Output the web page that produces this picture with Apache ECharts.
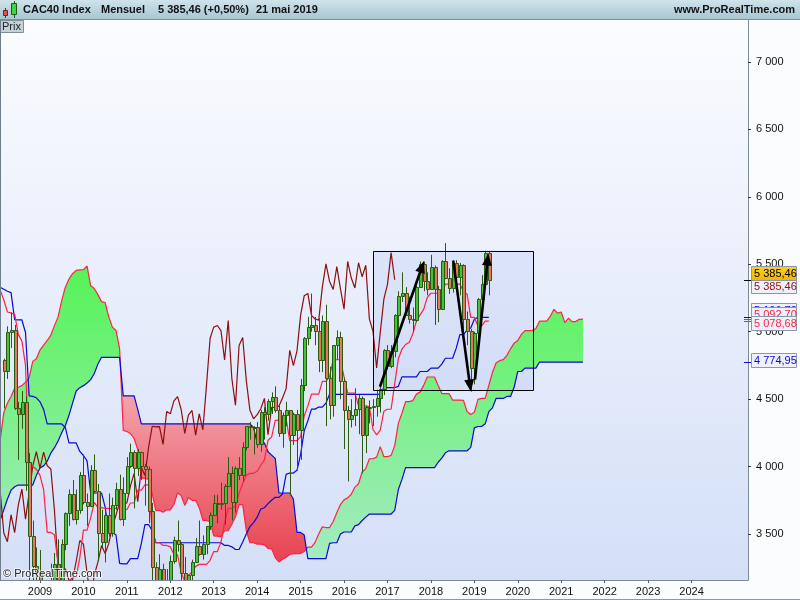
<!DOCTYPE html>
<html><head><meta charset="utf-8">
<script src="https://cdn.jsdelivr.net/npm/echarts@6/dist/echarts.min.js"></script>
<style>html,body{margin:0;padding:0;background:#fbfcfd}#c{width:800px;height:600px}</style>
</head><body><div id="c"></div>
<script>
// ================= DATA =================
const START_CANDLE = [2008, 3];   // first monthly candle (year, month)
const START_LINES  = [2008, 2];   // first Tenkan / Kijun value
const START_CLOUD  = [2008, 2];   // first (already projected) Senkou value
const CHIKOU_SHIFT = 26;          // chikou drawn 26 months back

const open = [
 4790,4707,4996,5014,4434,4392,4482,4032,3488,3262,
 3218,2962,2693,2807,3159,3278,3140,3426,3653,3795,3608,3680,
 3936,3739,3708,3974,3816,3508,3443,3643,3510,3715,3833,3610,
 3805,4005,4110,3989,4107,4006,3982,3672,3256,2982,3243,3155,
 3160,3298,3452,3424,3213,3017,3196,3291,3414,3355,3429,3557,
 3641,3733,3723,3731,3857,3949,3739,3993,3934,4143,4299,4295,
 4296,4165,4408,4391,4487,4519,4423,4246,4381,4416,4233,4390,
 4273,4604,4951,5034,5046,5008,4790,5082,4653,4455,4898,4957,
 4637,4417,4354,4385,4429,4506,4237,4440,4438,4448,4509,4578,
 4862,4749,4858,5123,5267,5284,5121,5094,5086,5330,5503,5373,
 5313,5482,5320,5167,5521,5398,5324,5511,5407,5493,5093,5003,
 4731,4993,5241,5351,5586];
const high = [
 4800,5040,5142,5050,4480,4560,4520,4100,3600,3400,
 3382,3130,2980,3280,3360,3460,3460,3660,3830,3900,3830,3960,
 4088,3800,4010,4090,3870,3680,3680,3800,3770,3880,3940,3920,
 4070,4170,4120,4130,4110,4020,4000,3730,3290,3350,3280,3240,
 3340,3480,3600,3440,3330,3200,3310,3470,3600,3490,3560,3660,
 3790,3790,3880,3870,4070,4000,4000,4070,4180,4300,4330,4300,
 4330,4420,4440,4500,4550,4595,4450,4400,4480,4420,4400,4420,
 4650,4960,5110,5283,5110,5100,5120,5200,4740,4900,5010,5000,
 4660,4450,4500,4580,4530,4520,4450,4490,4500,4570,4590,4870,
 4900,4900,5130,5300,5440,5330,5260,5180,5340,5520,5520,5440,
 5570,5490,5340,5530,5657,5470,5530,5530,5510,5500,5150,5020,
 5000,5250,5420,5600,5590];
const low = [
 4430,4650,4880,4420,4050,4280,3820,2881,2990,3050,
 2900,2680,2465,2690,3080,3080,2970,3380,3560,3600,3570,3650,
 3720,3560,3700,3800,3300,3400,3290,3480,3480,3680,3600,3560,
 3800,3990,3690,3930,3900,3710,3580,2880,2700,2780,2840,2920,
 3090,3280,3370,3130,2950,2950,3000,3290,3340,3310,3350,3530,
 3640,3580,3680,3570,3850,3600,3660,3900,3890,4120,4200,4090,
 4140,4110,4200,4340,4390,4400,4220,4140,4300,3790,4160,3980,
 4050,4560,4900,5000,4900,4700,4700,4300,4350,4370,4790,4500,
 4130,3890,4290,4300,4240,3950,4100,4320,4300,4370,4400,4530,
 4720,4730,4810,4990,5220,5120,5060,5000,5070,5330,5300,5270,
 5310,5050,5070,5160,5390,5280,5290,5340,5270,4940,4900,4556,
 4610,4950,5190,5350,5270];
const close = [
 4707,4996,5014,4434,4392,4482,4032,3488,3262,3218,
 2962,2693,2807,3159,3278,3140,3426,3653,3795,3608,3680,3936,
 3739,3708,3974,3816,3508,3443,3643,3510,3715,3833,3610,3805,
 4005,4110,3989,4107,4006,3982,3672,3256,2982,3243,3155,3160,
 3298,3452,3424,3213,3017,3196,3291,3414,3355,3429,3557,3641,
 3733,3723,3731,3857,3949,3739,3993,3934,4143,4299,4295,4296,
 4165,4408,4391,4487,4519,4423,4246,4381,4416,4233,4390,4273,
 4604,4951,5034,5046,5008,4790,5082,4653,4455,4898,4957,4637,
 4417,4354,4385,4429,4506,4237,4440,4438,4448,4509,4578,4862,
 4749,4858,5123,5267,5284,5121,5094,5086,5330,5503,5373,5313,
 5482,5320,5167,5521,5398,5324,5511,5407,5493,5093,5003,4731,
 4993,5241,5351,5586,5385.46];

const tenkan = [
 5309,5235,5146,5139,5130,4980,4930,4750,4011,4000,3980,
 3935,3830,3512,3512,3492,3282,3032,3062,3147,3182,3182,3325,
 3529,3529,3620,3735,3695,3695,3690,3690,3689,3690,3690,3690,
 3680,3730,3730,3825,3825,3865,3865,3525,3435,3435,3415,3415,
 3405,3350,3345,3215,3150,3190,3220,3260,3275,3275,3275,3305,
 3370,3370,3440,3585,3690,3690,3710,3800,3875,3935,3950,3950,
 3965,4010,4050,4195,4220,4343,4343,4343,4353,4193,4193,4193,
 4220,4375,4450,4537,4537,4537,4632,4632,4667,4792,4792,4792,
 4665,4545,4545,4545,4450,4450,4450,4445,4275,4235,4270,4410,
 4425,4425,4615,4800,4870,4905,4920,4985,5080,5125,5165,5255,
 5285,5285,5285,5285,5353,5353,5353,5353,5353,5298,5278,5106,
 5106,5043,5043,5078,5078.68];
const kijun = [
 5330,5315,5300,5290,5090,5087,5087,4994,4524,4520,4510,
 4480,4424,4316,4316,4316,4316,4316,4290,4175,4175,4175,4112,
 4082,4042,3804,3804,3804,3804,3700,3512,3512,3492,3282,3278,
 3278,3318,3318,3318,3430,3570,3570,3525,3435,3435,3435,3435,
 3435,3435,3435,3435,3435,3435,3435,3435,3435,3435,3435,3435,
 3435,3435,3435,3415,3415,3405,3385,3385,3440,3500,3555,3585,
 3625,3685,3695,3725,3750,3772,3772,3797,3942,3952,3952,3972,
 4090,4265,4340,4426,4426,4441,4441,4471,4536,4536,4536,4536,
 4536,4536,4536,4536,4536,4536,4536,4536,4536,4536,4536,4586,
 4586,4586,4586,4595,4665,4665,4665,4665,4665,4705,4705,4705,
 4730,4730,4730,4760,4803,4803,4803,4878,4978,4978,5013,5028,
 5093,5106.73,5106.73,5106.73,5106.73];
const senkouA = [
 4197,4400,4470,4520,4580,4588,4600,4625,4660,4780,4800,
 4864,4900,4935,4975,5045,5110,5230,5330,5390,5430,5455,5458,
 5460,5487,5340,5320,5275,5223,5215,5110,5034,5009,4872,4268,
 4260,4245,4208,4127,3914,3914,3904,3799,3674,3676,3661,3679,
 3679,3719,3806,3786,3712,3770,3750,3750,3695,3601,3601,3591,
 3486,3484,3479,3524,3524,3572,3628,3718,3718,3525,3435,3435,
 3425,3425,3420,3393,3390,3325,3293,3313,3328,3348,3355,3355,
 3355,3370,3403,3403,3438,3500,3553,3548,3548,3593,3658,3718,
 3753,3768,3795,3848,3873,3960,3985,4058,4058,4070,4148,4073,
 4073,4083,4155,4320,4395,4482,4482,4489,4537,4552,4602,4664,
 4664,4664,4601,4541,4541,4541,4493,4493,4493,4491,4406,4386,
 4403,4498,4506,4506,4601,4698,4768,4785,4793,4825,4873,4915,
 4935,4980,5008,5008,5008,5023,5078,5078,5078,5116,5166,5138,
 5146,5067,5100,5075,5075,5092,5092.70];
const senkouB = [
 3604,3680,3760,3825,3850,3863,3863,3863,3863,3863,3935,
 3990,4005,4040,4100,4140,4190,4250,4305,4380,4470,4560,4585,
 4600,4620,4645,4690,4760,4810,4810,4810,4810,4810,4810,4524,
 4524,4524,4524,4424,4316.5,4316.5,4316.5,4316.5,4316.5,4316.5,4316.5,4316.5,
 4316.5,4316.5,4316.5,4316.5,4316.5,4316.5,4316.5,4316.5,4316.5,4316.5,4316.5,4316.5,
 4316.5,4316.5,4316.5,4316.5,4316.5,4316.5,4316.5,4316.5,4316.5,4316.5,4316.5,4290,
 4175,4175,4175,4110,4085,4060,3804,3804,3804,3804,3760,3512,
 3512,3492,3318,3318,3318,3318,3318,3318,3430,3435,3435,3500,
 3515,3515,3515,3560,3570,3600,3625,3648,3648,3648,3648,3648,
 3648,3648,3675,3830,3905,3992,3992,3992,3992,3992,3992,3992,
 3992,3992,4032,4062,4102,4117,4117,4117,4117,4117,4117,4142,
 4287,4297,4297,4317,4407,4435,4505,4505,4505,4520,4520,4590,
 4705,4705,4730,4730,4730,4730,4774.95,4774.95,4774.95,4774.95,4774.95,4774.95,
 4774.95,4774.95,4774.95,4774.95,4774.95,4774.95,4774.95];

const yearLabels = [2009,2010,2011,2012,2013,2014,2015,2016,2017,2018,2019,2020,2021,2022,2023,2024];
const priceTicks = [3500,4000,4500,5000,5500,6000,6500,7000];

// annotations (decimal year, price)
const boxCorners = [[2016.675, 5601], [2020.358, 4568]];
const arrows = [
  [[2016.827, 4592], [2017.840, 5524]],
  [[2018.514, 5527], [2018.917, 4556]],
  [[2019.014, 4645], [2019.320, 5580]]
];
const headerTitle = ['CAC40 Index', 'Mensuel', '5 385,46 (+0,50%)', '21 mai 2019'];

// ================= HELPERS =================
const mi = ym => (ym[0] - 2009) * 12 + (ym[1] - 1);
const yr = y => (y - 2009) * 12;
const X_MIN = -11.05, X_MAX = 195.6, Y_MIN = 3159, Y_MAX = 7311;
const FONT = '"Liberation Sans", Arial, sans-serif';
function fmt(v, dec) {
  const s = v.toFixed(dec);
  const parts = s.split('.');
  const i = parts[0].replace(/\B(?=(\d{3})+(?!\d))/g, ' ');
  return parts.length > 1 ? i + ',' + parts[1] : i;
}

const c0 = mi(START_CANDLE), l0 = mi(START_LINES), k0 = mi(START_CLOUD);
const candleData = close.map((c, i) => [c0 + i, open[i], c, low[i], high[i]]);
const tenkanData = tenkan.map((v, i) => [l0 + i, v]);
const kijunData = kijun.map((v, i) => [l0 + i, v]);
const spanAData = senkouA.map((v, i) => [k0 + i, v]);
const spanBData = senkouB.map((v, i) => [k0 + i, v]);
const chikouData = close.map((v, i) => [c0 + i - CHIKOU_SHIFT, v]);

// cloud polygons split where the spans cross
function cloudRuns() {
  const runs = []; let cur = null;
  for (let i = 0; i < senkouA.length; i++) {
    const p = k0 + i, a = senkouA[i], b = senkouB[i], up = a >= b;
    if (!cur) { cur = {up, top: [[p, a]], bot: [[p, b]]}; continue; }
    if (up !== cur.up) {
      const a0 = senkouA[i - 1], b0 = senkouB[i - 1];
      const t = (a0 - b0) / ((a0 - b0) - (a - b));
      const px = p - 1 + t, pv = a0 + t * (a - a0);
      cur.top.push([px, pv]); cur.bot.push([px, pv]); runs.push(cur);
      cur = {up, top: [[px, pv], [p, a]], bot: [[px, pv], [p, b]]};
    } else { cur.top.push([p, a]); cur.bot.push([p, b]); }
  }
  runs.push(cur);
  return runs;
}
const runs = cloudRuns();
const greenGrad = new echarts.graphic.LinearGradient(0, 255, 0, 565, [
  {offset: 0, color: '#52f452'}, {offset: 1, color: '#a6ebc4'}], true);
const redGrad = new echarts.graphic.LinearGradient(0, 390, 0, 570, [
  {offset: 0, color: '#f4a6ae'}, {offset: 1, color: '#e73e4c'}], true);

const RED = '#ff2244', BLUE = '#0a0ad2', DARKRED = '#8e0f12';
const UP_FILL = '#44c23a', DOWN_FILL = '#e3785e', CANDLE_EDGE = '#2c5a0e';

const chart = echarts.init(document.getElementById('c'), null, {renderer: 'canvas', width: 800, height: 600});

const option = {
  animation: false,
  backgroundColor: '#fbfcfd',
  textStyle: {fontFamily: FONT},
  grid: {left: 0, right: 52, top: 20, bottom: 20, show: true, borderWidth: 0,
    backgroundColor: new echarts.graphic.LinearGradient(0, 0, 0, 1, [
      {offset: 0, color: '#fbfcff'}, {offset: 1, color: '#d4dff7'}])},
  xAxis: {
    type: 'value', min: X_MIN, max: X_MAX,
    axisLine: {show: true, onZero: false, lineStyle: {color: '#7b8b99', width: 1}},
    axisTick: {show: true, length: 3, customValues: yearLabels.map(yr), lineStyle: {color: '#55606a'}},
    axisLabel: {customValues: yearLabels.map(yr), formatter: v => String(2009 + Math.round(v / 12)),
      color: '#111', fontSize: 11, fontFamily: FONT, margin: 6},
    splitLine: {show: false}
  },
  yAxis: {
    type: 'value', position: 'right', min: Y_MIN, max: Y_MAX,
    axisLine: {show: true, onZero: false, lineStyle: {color: '#7b8b99', width: 1}},
    axisTick: {show: true, length: 3, customValues: priceTicks, lineStyle: {color: '#333'}},
    axisLabel: {customValues: priceTicks, formatter: v => fmt(v, 0), color: '#111', fontSize: 11, fontFamily: FONT, margin: 8},
    splitLine: {show: false}
  },
  series: [
    { // box fill
      type: 'custom', z: 1, silent: true, data: [[boxCorners[0][0], boxCorners[0][1], boxCorners[1][0], boxCorners[1][1]]],
      renderItem: (params, api) => {
        const p1 = api.coord([yr(api.value(0)), api.value(1)]);
        const p2 = api.coord([yr(api.value(2)), api.value(3)]);
        return {type: 'rect', shape: {x: p1[0], y: p1[1], width: p2[0] - p1[0], height: p2[1] - p1[1]},
          style: {fill: 'rgba(120,150,235,0.13)'}};
      }
    },
    { // kumo
      type: 'custom', z: 2, silent: true, data: [[0]],
      renderItem: (params, api) => ({
        type: 'group',
        children: runs.map(r => ({
          type: 'polygon',
          shape: {points: r.top.map(p => api.coord(p)).concat(r.bot.slice().reverse().map(p => api.coord(p)))},
          style: {fill: r.up ? greenGrad : redGrad}
        }))
      })
    },
    {type: 'line', z: 3, clip: true, data: spanAData, symbol: 'none', silent: true, lineStyle: {color: RED, width: 1.2}},
    {type: 'line', z: 3, clip: true, data: spanBData, symbol: 'none', silent: true, lineStyle: {color: BLUE, width: 1.2}},
    {type: 'line', z: 3, clip: true, data: chikouData, symbol: 'none', silent: true, lineStyle: {color: DARKRED, width: 1.2}},
    {type: 'line', z: 3, clip: true, data: kijunData, symbol: 'none', silent: true, lineStyle: {color: BLUE, width: 1.2}},
    {type: 'line', z: 3, clip: true, data: tenkanData, symbol: 'none', silent: true, lineStyle: {color: RED, width: 1.2}},
    { // candles (custom so that they are clipped to the plot)
      type: 'custom', z: 4, clip: true, silent: true, data: candleData,
      renderItem: (params, api) => {
        const x = api.value(0), o = api.value(1), c = api.value(2), l = api.value(3), h = api.value(4);
        const pt = api.coord([x, h]), pl = api.coord([x, l]);
        const po = api.coord([x, o]), pc = api.coord([x, c]);
        const cx = Math.round(pt[0]);
        const yTop = Math.round(Math.min(po[1], pc[1])), yBot = Math.round(Math.max(po[1], pc[1]));
        return {type: 'group', children: [
          {type: 'line', shape: {x1: cx + 0.5, y1: pt[1], x2: cx + 0.5, y2: pl[1]}, style: {stroke: CANDLE_EDGE, lineWidth: 1}},
          {type: 'rect', shape: {x: cx - 0.5, y: yTop + 0.5, width: 3, height: Math.max(1, yBot - yTop)},
            style: {fill: c >= o ? UP_FILL : DOWN_FILL, stroke: CANDLE_EDGE, lineWidth: 1}}
        ]};
      }
    },
    { // box border
      type: 'custom', z: 5, silent: true, data: [[boxCorners[0][0], boxCorners[0][1], boxCorners[1][0], boxCorners[1][1]]],
      renderItem: (params, api) => {
        const p1 = api.coord([yr(api.value(0)), api.value(1)]);
        const p2 = api.coord([yr(api.value(2)), api.value(3)]);
        return {type: 'rect', shape: {x: Math.round(p1[0]) + 0.5, y: Math.round(p1[1]) + 0.5,
          width: Math.round(p2[0] - p1[0]), height: Math.round(p2[1] - p1[1])},
          style: {fill: null, stroke: '#000', lineWidth: 1}};
      }
    },
    { // arrows
      type: 'custom', z: 6, silent: true, data: arrows.map(a => [a[0][0], a[0][1], a[1][0], a[1][1]]),
      renderItem: (params, api) => {
        const t = api.coord([yr(api.value(0)), api.value(1)]);
        const h = api.coord([yr(api.value(2)), api.value(3)]);
        const dx = h[0] - t[0], dy = h[1] - t[1], L = Math.hypot(dx, dy);
        const ux = dx / L, uy = dy / L, hl = 12, hw = 5;
        const bx = h[0] - ux * hl, by = h[1] - uy * hl;
        return {type: 'group', children: [
          {type: 'line', shape: {x1: t[0], y1: t[1], x2: bx + ux * 2, y2: by + uy * 2}, style: {stroke: '#000', lineWidth: 2.6}},
          {type: 'polygon', shape: {points: [[h[0], h[1]], [bx - uy * hw, by + ux * hw], [bx + uy * hw, by - ux * hw]]},
            style: {fill: '#000'}}
        ]};
      }
    }
  ],
  graphic: []
};
chart.setOption(option);

// ---------- overlay: header, tags, watermark ----------
const g = [];
g.push({type: 'rect', shape: {x: 0, y: 0, width: 800, height: 20}, z: 100,
  style: {fill: new echarts.graphic.LinearGradient(0, 0, 0, 1, [{offset: 0, color: '#cfe3ea'}, {offset: 1, color: '#a6c4d2'}])}});
g.push({type: 'line', shape: {x1: 0, y1: 19.5, x2: 800, y2: 19.5}, z: 101, style: {stroke: '#7890a0', lineWidth: 1}});
// icon
g.push({type: 'line', shape: {x1: 5.5, y1: 8, x2: 5.5, y2: 18}, z: 101, style: {stroke: '#6a2020', lineWidth: 1}});
g.push({type: 'rect', shape: {x: 3.5, y: 10.5, width: 4, height: 5}, z: 102, style: {fill: '#e65050', stroke: '#7a2020', lineWidth: 1}});
g.push({type: 'line', shape: {x1: 14.5, y1: 1, x2: 14.5, y2: 18}, z: 101, style: {stroke: '#205a10', lineWidth: 1}});
g.push({type: 'rect', shape: {x: 11.5, y: 3.5, width: 5, height: 11}, z: 102, style: {fill: '#3ed83e', stroke: '#205a10', lineWidth: 1}});
const hx = [23, 101, 158, 256];
headerTitle.forEach((t, i) => g.push({type: 'text', x: hx[i], y: 10, z: 103,
  style: {text: t, fill: '#111', font: 'bold 11px ' + FONT, verticalAlign: 'middle'}}));
g.push({type: 'text', x: 795, y: 10, z: 103, style: {text: 'www.ProRealTime.com', fill: '#111', font: 'bold 11px ' + FONT, align: 'right', verticalAlign: 'middle'}});
// Prix tab
g.push({type: 'rect', shape: {x: 0.5, y: 20.5, width: 23, height: 12}, z: 100, style: {fill: '#c3d1d9', stroke: '#7d8e98', lineWidth: 1}});
g.push({type: 'text', x: 2, y: 27, z: 101, style: {text: 'Prix', fill: '#222', font: '11px ' + FONT, verticalAlign: 'middle'}});
// left border
g.push({type: 'line', shape: {x1: 0.5, y1: 20, x2: 0.5, y2: 580}, z: 100, style: {stroke: '#6d7d8a', lineWidth: 1}});
// watermark
g.push({type: 'text', x: 3, y: 574, z: 100, style: {text: '\u00a9 ProRealTime.com', fill: '#222', font: '11px ' + FONT, verticalAlign: 'middle',
  stroke: 'rgba(255,255,255,0.7)', lineWidth: 2}});
// bottom line
g.push({type: 'line', shape: {x1: 0, y1: 599.5, x2: 800, y2: 599.5}, z: 100, style: {stroke: '#8a9aa8', lineWidth: 1}});

// value tags on the right axis
const lastClose = close[close.length - 1];
const tags = [
  {v: senkouB[senkouB.length - 1], dy: -2, text: BLUE, bg: '#eef1fa'},
  {v: kijun[kijun.length - 1], dy: -7.5, text: BLUE, bg: '#eef1fa'},
  {v: senkouA[senkouA.length - 1], dy: -5, text: RED, bg: '#eef1fa'},
  {v: tenkan[tenkan.length - 1], dy: 1.5, text: RED, bg: '#eef1fa'},
  {v: lastClose, dy: 6.5, text: DARKRED, bg: '#eef1fa'},
  {v: lastClose, dy: -6.5, text: '#000', bg: 'yellow'}
];
tags.forEach((t, i) => {
  const y0 = chart.convertToPixel({yAxisIndex: 0}, t.v);
  const y = y0 + t.dy;
  g.push({type: 'line', shape: {x1: 744, y1: Math.round(y0) + 0.5, x2: 752, y2: Math.round(y0) + 0.5}, z: 110 + i * 3,
    style: {stroke: t.text === '#000' ? '#000' : t.text, lineWidth: 1}});
  const fill = t.bg === 'yellow'
    ? new echarts.graphic.LinearGradient(0, 0, 0, 1, [{offset: 0, color: '#ffd21a'}, {offset: 1, color: '#f0b400'}])
    : t.bg;
  g.push({type: 'rect', shape: {x: 751.5, y: Math.round(y - 7) + 0.5, width: 45, height: 14}, z: 111 + i * 3,
    style: {fill: fill, stroke: '#8c98aa', lineWidth: 1}});
  g.push({type: 'text', x: 754, y: Math.round(y) + 0.5, z: 112 + i * 3,
    style: {text: fmt(t.v, 2), fill: t.text, font: '11px ' + FONT, verticalAlign: 'middle'}});
});
chart.setOption({graphic: {elements: g}});
</script>
</body></html>
